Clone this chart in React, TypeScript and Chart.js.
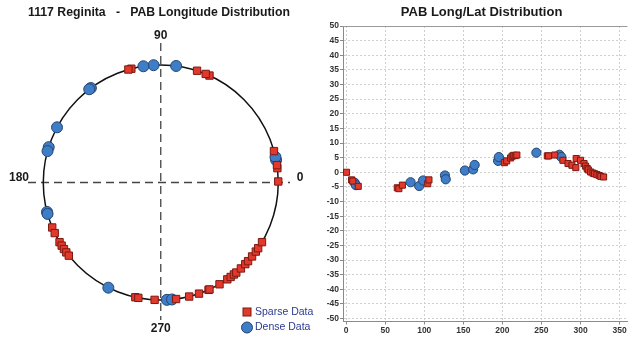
import React, { useEffect, useRef } from "react";
import { Chart, registerables } from "chart.js";

Chart.register(...registerables);

// ---- Data (longitude in degrees, latitude in degrees) ----
const sparseLong = [
  0.5, 7, 8.5, 15.5, 65.5, 67.5, 72, 104.5, 106, 202.5, 205.5, 210.5, 212.5,
  214.5, 216.5, 218.5, 257.5, 259, 267, 277.5, 284, 289, 294, 294.5, 300,
  304.5, 306.5, 308.5, 310, 313, 316, 318, 321, 324, 326, 329.5,
];
const sparseLat = [
  0, -2.6, -3.0, -4.8, -5.3, -5.6, -4.4, -3.9, -2.6, 3.3, 3.9, 4.9, 5.5, 5.8,
  5.7, 5.9, 5.6, 5.6, 5.9, 4.1, 3.0, 2.4, 1.6, 4.7, 4.1, 3.0, 2.1, 1.3, 0.8,
  0.1, -0.3, -0.5, -0.8, -1.1, -1.4, -1.6,
];
const denseLong = [
  11, 12.5, 82.5, 93.5, 98.5, 126.5, 127.5, 152, 162.5, 164.5, 194.5, 195.5,
  243.5, 273, 275.5,
];
const denseLat = [
  -3.6, -4.4, -3.4, -4.7, -2.8, -1.1, -2.4, 0.6, 1.0, 2.5, 3.9, 5.2, 6.7, 6.0,
  5.2,
];
const compassLabels = ["0", "90", "180", "270"];
const leftTitle = "1117 Reginita   -   PAB Longitude Distribution";
const rightTitle = "PAB Long/Lat Distribution  ";
const seriesNames = ["Sparse Data", "Dense Data"];

const FONT = "'Liberation Sans', Arial, sans-serif";
const RED = "#e3392d";
const RED_BORDER = "#7a1a12";
const BLUE = "#3e7dc8";
const BLUE_BORDER = "#244670";

const toCircle = (longs: number[]) =>
  longs.map((l) => ({
    x: Math.cos((l * Math.PI) / 180),
    y: Math.sin((l * Math.PI) / 180),
  }));

const circlePlugin = {
  id: "circleFrame",
  beforeDatasetsDraw(chart: any) {
    const { ctx, chartArea, scales } = chart;
    const cx = scales.x.getPixelForValue(0);
    const cy = scales.y.getPixelForValue(0);
    const r = scales.x.getPixelForValue(1) - cx;
    ctx.save();
    ctx.strokeStyle = "#444";
    ctx.lineWidth = 1.3;
    ctx.setLineDash([8, 5]);
    ctx.beginPath();
    ctx.moveTo(chartArea.left, cy);
    ctx.lineTo(chartArea.right, cy);
    ctx.moveTo(cx, chartArea.top);
    ctx.lineTo(cx, chartArea.bottom);
    ctx.stroke();
    ctx.setLineDash([]);
    ctx.strokeStyle = "#111";
    ctx.lineWidth = 1.5;
    ctx.beginPath();
    ctx.arc(cx, cy, r, 0, Math.PI * 2);
    ctx.stroke();
    ctx.fillStyle = "#1a1a1a";
    ctx.font = `bold 12px ${FONT}`;
    ctx.textAlign = "center";
    ctx.textBaseline = "middle";
    ctx.fillText(compassLabels[0], chartArea.right + 10, cy - 5);
    ctx.fillText(compassLabels[1], cx, chartArea.top - 7);
    ctx.fillText(compassLabels[2], chartArea.left - 9, cy - 5);
    ctx.fillText(compassLabels[3], cx, chartArea.bottom + 9);
    ctx.restore();
  },
  afterDraw(chart: any) {
    const { ctx } = chart;
    const ds = chart.data.datasets;
    ctx.save();
    ctx.font = `10.5px ${FONT}`;
    ctx.textAlign = "left";
    ctx.textBaseline = "middle";
    ctx.fillStyle = RED;
    ctx.strokeStyle = RED_BORDER;
    ctx.lineWidth = 1;
    ctx.fillRect(243, 308, 8, 8);
    ctx.strokeRect(243, 308, 8, 8);
    ctx.fillStyle = "#2d3a8f";
    ctx.fillText(ds[0].label, 255, 312);
    ctx.fillStyle = BLUE;
    ctx.strokeStyle = BLUE_BORDER;
    ctx.beginPath();
    ctx.arc(247, 327.5, 5.5, 0, Math.PI * 2);
    ctx.fill();
    ctx.stroke();
    ctx.fillStyle = "#2d3a8f";
    ctx.fillText(ds[1].label, 255, 327.5);
    ctx.restore();
  },
};

const topBorderPlugin = {
  id: "topBorder",
  afterDraw(chart: any) {
    const { ctx, chartArea } = chart;
    ctx.save();
    ctx.strokeStyle = "#999";
    ctx.lineWidth = 1;
    ctx.beginPath();
    ctx.moveTo(chartArea.left, chartArea.top + 0.5);
    ctx.lineTo(chartArea.right, chartArea.top + 0.5);
    ctx.stroke();
    ctx.restore();
  },
};

export default function App() {
  const leftRef = useRef<HTMLCanvasElement>(null);
  const rightRef = useRef<HTMLCanvasElement>(null);

  useEffect(() => {
    const left = new Chart(leftRef.current as HTMLCanvasElement, {
      type: "scatter",
      data: {
        datasets: [
          {
            label: seriesNames[0],
            data: toCircle(sparseLong),
            pointStyle: "rect",
            pointRadius: 5.2,
            backgroundColor: RED,
            borderColor: RED_BORDER,
            borderWidth: 1,
          },
          {
            label: seriesNames[1],
            data: toCircle(denseLong),
            pointStyle: "circle",
            pointRadius: 5.5,
            backgroundColor: BLUE,
            borderColor: BLUE_BORDER,
            borderWidth: 1,
          },
        ],
      },
      options: {
        animation: false,
        responsive: false,
        events: [],
        layout: { padding: { left: 28, right: 30, top: 0, bottom: 17 } },
        plugins: {
          legend: { display: false },
          tooltip: { enabled: false },
          title: {
            display: true,
            text: leftTitle,
            color: "#1a1a1a",
            font: { family: FONT, size: 13, weight: "bold" },
            padding: { top: 5, bottom: 22.4 },
          },
        },
        scales: {
          x: { type: "linear", display: false, min: -1.13, max: 1.1 },
          y: { type: "linear", display: false, min: -1.17, max: 1.187 },
        },
      },
      plugins: [circlePlugin],
    } as any);

    const tickFont = { family: FONT, size: 8.5, weight: "bold" };
    const gridOpts = {
      color: "#cfcfcf",
      lineWidth: 1,
      tickLength: 3,
      tickColor: "#888",
      tickBorderDash: [],
    };
    const borderOpts = { display: true, color: "#8a8a8a", width: 1, dash: [2, 2] };
    const right = new Chart(rightRef.current as HTMLCanvasElement, {
      type: "scatter",
      data: {
        datasets: [
          {
            label: seriesNames[0],
            data: sparseLong.map((x, i) => ({ x, y: sparseLat[i] })),
            pointStyle: "rect",
            pointRadius: 4.3,
            backgroundColor: RED,
            borderColor: RED_BORDER,
            borderWidth: 1,
          },
          {
            label: seriesNames[1],
            data: denseLong.map((x, i) => ({ x, y: denseLat[i] })),
            pointStyle: "circle",
            pointRadius: 4.6,
            backgroundColor: BLUE,
            borderColor: BLUE_BORDER,
            borderWidth: 1,
          },
        ],
      },
      options: {
        animation: false,
        responsive: false,
        events: [],
        layout: { padding: 0 },
        plugins: {
          legend: { display: false },
          tooltip: { enabled: false },
          title: {
            display: true,
            text: rightTitle,
            color: "#1a1a1a",
            font: { family: FONT, size: 13, weight: "bold" },
            padding: { top: 5, bottom: 5.4 },
            fullSize: false,
          },
        },
        scales: {
          x: {
            type: "linear",
            min: -4,
            max: 360,
            ticks: {
              stepSize: 50,
              includeBounds: false,
              color: "#333",
              font: tickFont,
              padding: 1,
              maxRotation: 0,
            },
            grid: gridOpts,
            border: borderOpts,
            afterFit: (s: any) => {
              s.height = 15.5;
            },
          },
          y: {
            type: "linear",
            min: -51,
            max: 50,
            ticks: {
              stepSize: 5,
              includeBounds: false,
              color: "#333",
              font: tickFont,
              padding: 1,
            },
            grid: gridOpts,
            border: borderOpts,
            afterFit: (s: any) => {
              s.width = 23;
            },
          },
        },
      },
      plugins: [topBorderPlugin],
    } as any);

    return () => {
      left.destroy();
      right.destroy();
    };
  }, []);

  return (
    <div
      style={{
        position: "absolute",
        left: 0,
        top: 0,
        width: 633,
        height: 337,
        background: "#fff",
      }}
    >
      <canvas
        ref={leftRef}
        width={320}
        height={337}
        style={{ position: "absolute", left: 0, top: 0, display: "block" }}
      />
      <canvas
        ref={rightRef}
        width={313}
        height={337}
        style={{ position: "absolute", left: 320, top: 0, display: "block" }}
      />
    </div>
  );
}
